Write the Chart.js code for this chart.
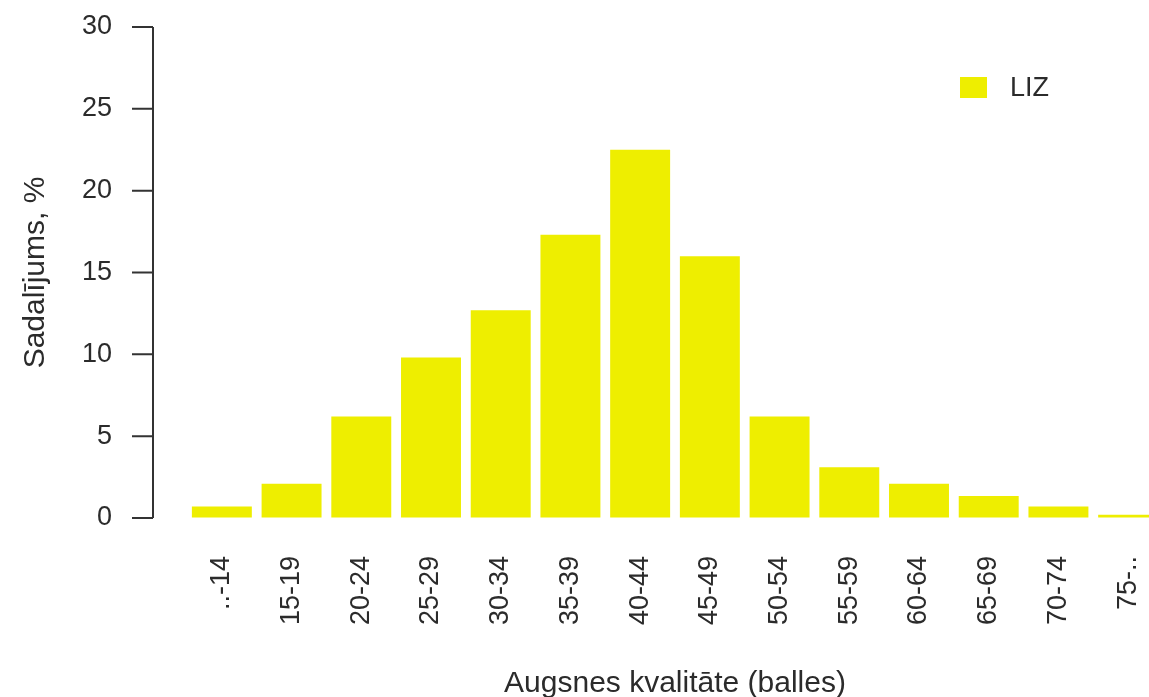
<!DOCTYPE html>
<html>
<head>
<meta charset="utf-8">
<script src="https://cdn.jsdelivr.net/npm/chart.js@4/dist/chart.umd.min.js"></script>
<style>
    html, body { margin: 0; padding: 0; background: #fff; overflow: hidden; }
    #wrap { width: 1170px; height: 712px; }
</style>
</head>
<body>
<div id="wrap"><canvas id="dist-chart"></canvas></div>
<script>
// Score classes on the x axis
const categories = ['..-14', '15-19', '20-24', '25-29', '30-34', '35-39', '40-44',
    '45-49', '50-54', '55-59', '60-64', '65-69', '70-74', '75-..'];

// Share of area per class, %
const lizValues = [0.7, 2.1, 6.2, 9.8, 12.7, 17.3, 22.5, 16.0, 6.2, 3.1, 2.1, 1.35, 0.7, 0.2];

// Y axis ticks
const yTicks = [0, 5, 10, 15, 20, 25, 30];

const seriesName = 'LIZ';
const textColor = '#2b2b2b';
const fontFamily = '"Liberation Sans", Arial, sans-serif';

Chart.defaults.font.family = fontFamily;
Chart.defaults.color = textColor;

// R-style y axis: line detached from the bars, with outward ticks
const rAxisPlugin = {
    id: 'rAxis',
    afterDraw(chart) {
        const { ctx, chartArea, scales } = chart;
        const y = scales.y;
        const axisX = chartArea.left - 34;
        ctx.save();
        ctx.strokeStyle = '#333';
        ctx.lineWidth = 2;
        ctx.beginPath();
        ctx.moveTo(axisX, y.getPixelForValue(yTicks[yTicks.length - 1]));
        ctx.lineTo(axisX, y.getPixelForValue(yTicks[0]));
        yTicks.forEach(t => {
            const py = y.getPixelForValue(t);
            ctx.moveTo(axisX - 21, py);
            ctx.lineTo(axisX, py);
        });
        ctx.stroke();
        ctx.restore();
    }
};

// Legend box inside the plot, top right
const boxLegendPlugin = {
    id: 'boxLegend',
    afterDraw(chart) {
        const { ctx } = chart;
        const ds = chart.data.datasets[0];
        ctx.save();
        ctx.fillStyle = ds.backgroundColor;
        ctx.fillRect(960, 77, 27, 21);
        ctx.fillStyle = textColor;
        ctx.font = '27px ' + fontFamily;
        ctx.textBaseline = 'middle';
        ctx.fillText(ds.label, 1010, 89);
        ctx.restore();
    }
};

const ctx = document.getElementById('dist-chart').getContext('2d');

new Chart(ctx, {
    type: 'bar',
    data: {
        labels: categories,
        datasets: [{
            label: seriesName,
            data: lizValues,
            backgroundColor: '#eeee00',
            borderWidth: 0,
            categoryPercentage: 1,
            barPercentage: 0.86
        }]
    },
    options: {
        responsive: true,
        maintainAspectRatio: false,
        animation: false,
        layout: { padding: { top: 27, right: 7, left: 0, bottom: 0 } },
        scales: {
            x: {
                // invisible tick marks only used as spacing before the labels
                grid: { display: true, drawOnChartArea: false, drawTicks: true, tickLength: 38, color: 'rgba(0,0,0,0)' },
                border: { display: false },
                ticks: {
                    autoSkip: false,
                    minRotation: 90,
                    maxRotation: 90,
                    padding: 0,
                    color: textColor,
                    font: { size: 27 }
                },
                title: {
                    display: true,
                    text: 'Augsnes kvalitāte (balles)',
                    color: textColor,
                    font: { size: 30 },
                    padding: { top: 0, bottom: 10 }
                },
                afterFit: s => { s.height = 194; }
            },
            y: {
                min: 0,
                max: 30,
                grid: { display: true, drawOnChartArea: false, drawTicks: true, tickLength: 75, color: 'rgba(0,0,0,0)' },
                border: { display: false },
                ticks: {
                    stepSize: 5,
                    padding: 0,
                    color: textColor,
                    font: { size: 27 }
                },
                title: {
                    display: true,
                    text: 'Sadalījums, %',
                    color: textColor,
                    font: { size: 30 },
                    padding: { top: 18, bottom: 0 }
                },
                afterFit: s => { s.width = 187; }
            }
        },
        plugins: {
            legend: { display: false },
            tooltip: { enabled: false }
        }
    },
    plugins: [rAxisPlugin, boxLegendPlugin]
});
</script>
</body>
</html>
